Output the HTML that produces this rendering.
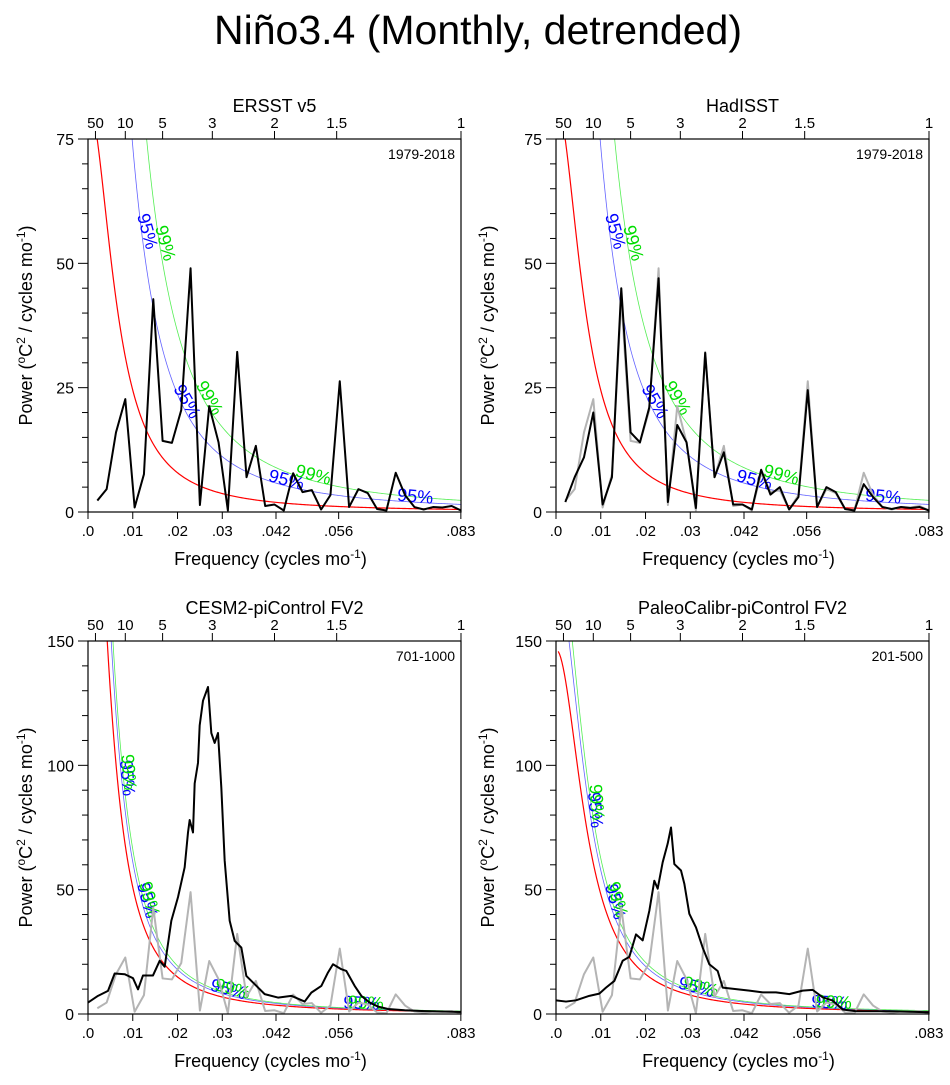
<!DOCTYPE html>
<html><head><meta charset="utf-8"><style>
body{margin:0;background:#fff;}
svg text{font-family:"Liberation Sans",sans-serif;}
</style></head><body>
<svg id="chart" width="950" height="1080" viewBox="0 0 950 1080" xmlns="http://www.w3.org/2000/svg">
<text x="478" y="44" font-size="41" text-anchor="middle">Niño3.4 (Monthly, detrended)</text>
</svg>
<script>
const freqTicks = [0, 0.01, 0.02, 0.03, 0.042, 0.056, 0.0833];
const freqTickLabels = [".0", ".01", ".02", ".03", ".042", ".056", ".083"];
const periodTicks = [50, 10, 5, 3, 2, 1.5, 1];
const ersstPower = [2.3,4.6,16,22.7,0.9,7.6,42.8,14.3,13.9,20.5,49,1.4,21.3,14,0.3,32.2,7,13.3,1.2,1.5,0.3,7.8,4,4.4,0.5,3.4,26.3,1,4.6,3.8,0.6,0.3,7.9,3.4,1,0.5,1,0.9,1.2,0.3];
const hadisstPower = [2,7,11,20,1.5,7,45,16,14,21,47,2,17.5,14,0.8,32,7,12,1.5,1.5,0.5,8.5,3.5,5,0.5,3,24.5,1,5,4,0.6,0.3,5.6,3,1,0.6,1,0.8,1,0.3];
const cesmZx = [0,30,60,80,110,135,150,165,195,215,230,250,270,290,300,305,315,320,330,335,345,360,370,380,390,400,410,425,440,460,475,500,530,570,610,650,670,700,720,735,760,775,800,820,845,870,900,950,1000,1119];
const cesmPower = [4.6,7.3,9.3,16.3,16,14.4,9.9,15.5,15.5,21.4,19,37.5,47,59,73,78,73,92.7,101,116,126,131.5,113,109,113,91,61.7,37.5,29.4,26.7,15.3,12,8,6.6,7.3,5,8.6,11.3,16.7,20,18,17.3,11.3,7.3,4.6,3,2,1.5,1.2,0.8];
const paleoZx = [0,30,60,100,130,150,175,200,220,240,260,280,295,305,320,335,345,355,375,385,400,420,440,460,485,500,540,580,620,660,700,740,770,800,830,860,900,1000,1119];
const paleoPower = [5.5,5,5.5,7.3,8.2,10.6,13.3,21.4,23,32,29.6,41.5,53.6,50.4,61,68.5,75,60.3,57.7,52.4,40.3,34.8,26.7,20,17.3,10.6,10,9.4,8.7,8.7,8,9.4,9.7,6.7,5.4,1.8,1.1,1.1,0.7];
// AR1 red-noise parameters [amplitude, lag1] and significance multipliers [95%, 99%]
const redObs = [0.132, 0.96];
const redCesm = [0.241, 0.97];
const redPaleo = [0.271, 0.957];
const sigObs = [3.0, 4.6];
const sigModel = [1.2, 1.3];

const NS = "http://www.w3.org/2000/svg";
const svg = document.getElementById('chart');
function mk(tag, attrs, parent){const e=document.createElementNS(NS,tag);for(const k in attrs)e.setAttribute(k,attrs[k]);(parent||svg).appendChild(e);return e;}

const panels = [
 {x0:88,y0:139,title:"ERSST v5",yr:"1979-2018",ymax:75,yticks:[0,25,50,75],minor:5,red:redObs,sig:sigObs,gray:null,black:'obs1'},
 {x0:556,y0:139,title:"HadISST",yr:"1979-2018",ymax:75,yticks:[0,25,50,75],minor:5,red:redObs,sig:sigObs,gray:true,black:'obs2'},
 {x0:88,y0:641,title:"CESM2-piControl FV2",yr:"701-1000",ymax:150,yticks:[0,50,100,150],minor:10,red:redCesm,sig:sigModel,gray:true,black:'cesm'},
 {x0:556,y0:641,title:"PaleoCalibr-piControl FV2",yr:"201-500",ymax:150,yticks:[0,50,100,150],minor:10,red:redPaleo,sig:sigModel,gray:true,black:'paleo'}
];
const W=373,H=373,FMAX=1/12;

function ar1(p,f){return p[0]/(1+p[1]*p[1]-2*p[1]*Math.cos(2*Math.PI*f));}

panels.forEach((P,pi)=>{
 const g=mk('g',{});
 
 
 const xs=f=>P.x0+f/FMAX*W;
 const ys=v=>P.y0+H-Math.min(v,P.ymax)/P.ymax*H;
 const cp='clip'+pi;
 const c=mk('clipPath',{id:cp},g); mk('rect',{x:P.x0,y:P.y0,width:W,height:H},c);
 const plot=mk('g',{'clip-path':'url(#'+cp+')'},g);
 
 
 const curve=(mult,color,w,name)=>{let d='';for(let i=0;i<=300;i++){const f=0.0005+i*(FMAX-0.0005)/300;let v=ar1(P.red,f)*mult;if(v>P.ymax*1.5)v=P.ymax*1.5;const y=P.y0+H-v/P.ymax*H;d+=(i?'L':'M')+xs(f).toFixed(2)+','+y.toFixed(2);}
  const p=mk('path',{d:d,fill:'none',stroke:color,'stroke-width':w},plot);
  
  };
 curve(1,'#ff0000',1.2,'red-noise-curve');
 curve(P.sig[0],'#6464ff',0.8,'sig95-curve');
 curve(P.sig[1],'#55ee55',0.8,'sig99-curve');
 const lab=(f,mult,txt,color,rot)=>{const t=mk('text',{x:xs(f),y:ys(ar1(P.red,f)*mult),fill:color,'font-size':18,'text-anchor':'middle',transform:`rotate(${rot} ${xs(f)} ${ys(ar1(P.red,f)*mult)})`},plot);t.textContent=txt;
  
  };
 if(pi<2){lab(0.012,P.sig[0],'95%','#0000ff',75);lab(0.016,P.sig[1],'99%','#00dd00',75);lab(0.021,P.sig[0],'95%','#0000ff',60);lab(0.026,P.sig[1],'99%','#00dd00',60);lab(0.044,P.sig[0],'95%','#0000ff',15);lab(0.05,P.sig[1],'99%','#00dd00',15);lab(0.073,P.sig[0],'95%','#0000ff',5);}
 else{lab(0.0075,P.sig[0],'95%','#0000ff',85);lab(0.0078,P.sig[1],'99%','#00dd00',85);lab(0.012,P.sig[0],'95%','#0000ff',75);lab(0.0125,P.sig[1],'99%','#00dd00',75);lab(0.031,P.sig[0],'95%','#0000ff',15);lab(0.032,P.sig[1],'99%','#00dd00',15);lab(0.061,P.sig[0],'95%','#0000ff',3);lab(0.062,P.sig[1],'99%','#00dd00',3);}
 const line=(fs,vs,color,w,name)=>{let d='';fs.forEach((f,i)=>{d+=(i?'L':'M')+xs(f).toFixed(2)+','+ys(vs[i]).toFixed(2);});
  const p=mk('path',{d:d,fill:'none',stroke:color,'stroke-width':w,'stroke-linejoin':'round'},plot);
  
  };
 const obsF=ersstPower.map((v,i)=>(i+1)/480);
 if(P.gray) line(obsF,ersstPower,'#b4b4b4',2,'ersst-reference-line');
 if(P.black==='obs1') line(obsF,ersstPower,'#000',2,'ersst-spectrum-line');
 if(P.black==='obs2') line(obsF,hadisstPower,'#000',2,'hadisst-spectrum-line');
 if(P.black==='cesm') line(cesmZx.map(z=>z/13428),cesmPower,'#000',2,'cesm-spectrum-line');
 if(P.black==='paleo') line(paleoZx.map(z=>z/13428),paleoPower,'#000',2,'paleo-spectrum-line');
 const fr=mk('rect',{x:P.x0,y:P.y0,width:W,height:H,fill:'none',stroke:'#000','stroke-width':1.2},g);
 
 
 for(let v=0;v<=P.ymax;v+=P.minor){const y=ys(v);const major=P.yticks.includes(v);
  mk('line',{x1:P.x0-(major?10:6),x2:P.x0,y1:y,y2:y,stroke:'#000','stroke-width':1},g);}
 P.yticks.forEach(v=>{const t=mk('text',{x:P.x0-14,y:ys(v)+6,'font-size':16,'text-anchor':'end'},g);t.textContent=v;
  
  });
 freqTicks.forEach((f,i)=>{const x=xs(f);mk('line',{x1:x,x2:x,y1:P.y0+H,y2:P.y0+H+7,stroke:'#000','stroke-width':1},g);
  const t=mk('text',{x:x,y:P.y0+H+24,'font-size':15,'text-anchor':'middle'},g);t.textContent=freqTickLabels[i];
  
  });
 periodTicks.forEach(p=>{const x=xs(1/(12*p));mk('line',{x1:x,x2:x,y1:P.y0-8,y2:P.y0,stroke:'#000','stroke-width':1},g);
  const t=mk('text',{x:x,y:P.y0-11,'font-size':15,'text-anchor':'middle'},g);t.textContent=p;
  
  });
 const tt=mk('text',{x:P.x0+W/2,y:P.y0-27,'font-size':18,'text-anchor':'middle'},g);tt.textContent=P.title;
 
 
 const yr=mk('text',{x:P.x0+W-6,y:P.y0+20,'font-size':14,'text-anchor':'end'},g);yr.textContent=P.yr;
 
 
 const xt=mk('text',{x:P.x0+W/2-4,y:P.y0+H+53,'font-size':18,'text-anchor':'middle'},g);
 xt.innerHTML='Frequency (cycles mo<tspan dy="-7" font-size="12">-1</tspan><tspan dy="7">)</tspan>';
 
 
 const yx=P.x0-(pi%2===0?56:62), yc=P.y0+H/2;
 const yt=mk('text',{x:yx,y:yc,'font-size':18,'text-anchor':'middle',transform:`rotate(-90 ${yx} ${yc})`},g);
 yt.innerHTML='Power (<tspan dy="-7" font-size="12">o</tspan><tspan dy="7">C</tspan><tspan dy="-7" font-size="12">2</tspan><tspan dy="7"> / cycles mo</tspan><tspan dy="-7" font-size="12">-1</tspan><tspan dy="7">)</tspan>';
 
 
});
</script>
</body></html>
